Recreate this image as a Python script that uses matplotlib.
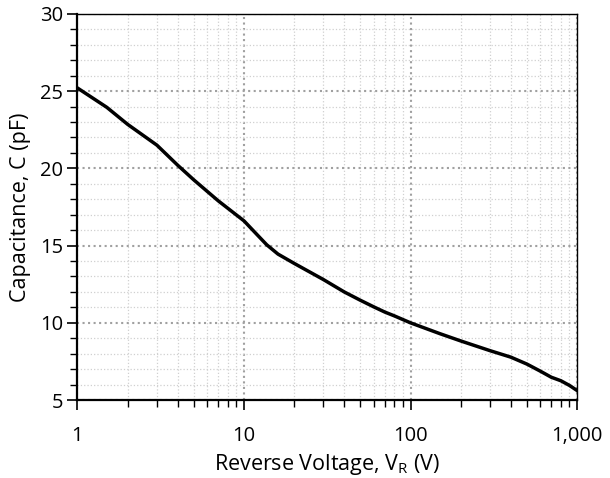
import numpy as np
import matplotlib.pyplot as plt
from matplotlib.ticker import FuncFormatter, MultipleLocator, LogLocator

plt.rcParams['font.family'] = ['Open Sans', 'DejaVu Sans']
plt.rcParams['mathtext.fontset'] = 'custom'
plt.rcParams['mathtext.rm'] = 'Open Sans'

# reverse voltage (V) and capacitance (pF)
v_r = [1, 1.5, 2, 3, 4, 5, 7, 10, 12, 13.7, 16, 20, 30, 40, 50, 60, 70, 80, 100,
       150, 200, 300, 400, 500, 600, 700, 800, 900, 1000]
cap = [25.2, 23.95, 22.85, 21.5, 20.2, 19.25, 17.9, 16.6, 15.7, 15.05, 14.45, 13.85, 12.8,
       12.0, 11.46, 11.04, 10.7, 10.45, 10.0, 9.3, 8.83, 8.2, 7.78, 7.33, 6.88, 6.48,
       6.25, 5.95, 5.62]

fig = plt.figure(figsize=(6.1, 4.78), dpi=100)
ax = fig.add_axes([0.127, 0.163, 0.819, 0.808])

ax.plot(v_r, cap, color='black', lw=2.5, solid_joinstyle='round')

ax.set_xscale('log')
ax.set_xlim(1, 1000)
ax.set_ylim(5, 30)
ax.xaxis.set_major_formatter(FuncFormatter(lambda v, p: f'{v:,.0f}'))
ax.xaxis.set_minor_locator(LogLocator(base=10, subs=np.arange(2, 10)))
ax.xaxis.set_minor_formatter(FuncFormatter(lambda v, p: ''))
ax.yaxis.set_major_locator(MultipleLocator(5))
ax.yaxis.set_minor_locator(MultipleLocator(1))

ax.grid(which='major', color='#a0a0a0', ls=':', lw=1.5)
ax.grid(which='minor', color='#d0d0d0', ls=':', lw=0.9)

for s in ['left', 'bottom']:
    ax.spines[s].set_linewidth(1.6)
for s in ['top', 'right']:
    ax.spines[s].set_linewidth(1.0)

ax.tick_params(which='major', length=7, width=1.2, labelsize=14.5, colors='black')
ax.tick_params(which='minor', length=5, width=1.0)
ax.tick_params(axis='x', which='major', pad=12)
ax.tick_params(top=False, right=False, which='both')

ax.set_xlabel('Reverse Voltage, V$_\\mathregular{R}$ (V)', fontsize=15.5, labelpad=4)
ax.set_ylabel('Capacitance, C (pF)', fontsize=15.5, labelpad=6)

fig.savefig('out.png')
